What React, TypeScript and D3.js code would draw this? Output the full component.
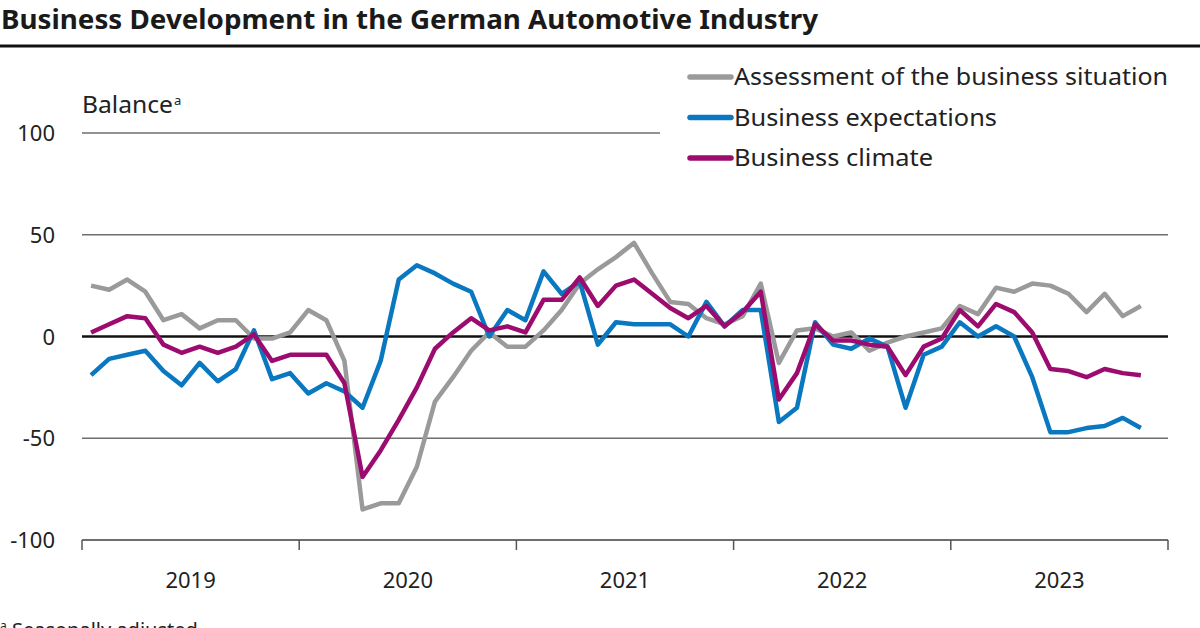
import React from "react";
import * as d3 from "d3";

const years = ["2019", "2020", "2021", "2022", "2023"];
const yTicks = [100, 50, 0, -50, -100];

const situation = [
  25, 23, 28, 22, 8, 11, 4, 8, 8, -1, -1, 2,
  13, 8, -12, -85, -82, -82, -64, -32, -20, -7, 2, -5,
  -5, 3, 13, 26, 33, 39, 46, 31, 17, 16, 9, 6,
  10, 26, -13, 3, 4, 0, 2, -7, -3, 0, 2, 4,
  15, 11, 24, 22, 26, 25, 21, 12, 21, 10, 15,
];
const expectations = [
  -19, -11, -9, -7, -17, -24, -13, -22, -16, 3, -21, -18,
  -28, -23, -27, -35, -12, 28, 35, 31, 26, 22, 0, 13,
  8, 32, 21, 27, -4, 7, 6, 6, 6, 0, 17, 5,
  13, 13, -42, -35, 7, -4, -6, -1, -5, -35, -9, -5,
  7, 0, 5, 0, -20, -47, -47, -45, -44, -40, -45,
];
const climate = [
  2, 6, 10, 9, -4, -8, -5, -8, -5, 1, -12, -9,
  -9, -9, -23, -69, -56, -41, -25, -6, 2, 9, 3, 5,
  2, 18, 18, 29, 15, 25, 28, 21, 14, 9, 15, 5,
  12, 22, -31, -18, 6, -2, -2, -4, -5, -19, -5, -1,
  13, 5, 16, 12, 2, -16, -17, -20, -16, -18, -19,
];

const seriesList = [
  { name: "Assessment of the business situation", values: situation, color: "#9a9a9a", legendW: 434 },
  { name: "Business expectations", values: expectations, color: "#0a78c0", legendW: 263 },
  { name: "Business climate", values: climate, color: "#9c0b6e", legendW: 199 },
];

const FONT = "'Liberation Sans Narrow', 'Noto Sans', 'Open Sans', sans-serif";

export default function App() {
  const W = 1200, H = 628;
  const left = 82, right = 1168;
  const x = d3.scaleLinear().domain([0, years.length * 12]).range([left, right]);
  const y = d3.scaleLinear().domain([-100, 100]).range([540, 133]);
  const line = d3
    .line<number>()
    .x((_, i) => x(i + 0.5))
    .y((d) => y(d));

  return (
    <svg
      width={W}
      height={H}
      style={{ position: "absolute", left: 0, top: 0, background: "#fff" }}
      fontFamily={FONT}
    >
      <text x={1} y={29} fontSize={26} fontWeight="bold" fill="#1a1a1a" textLength={817} lengthAdjust="spacingAndGlyphs">
        Business Development in the German Automotive Industry
      </text>
      <line x1={0} x2={W} y1={46} y2={46} stroke="#111" strokeWidth={3} />

      {/* gridlines */}
      {yTicks.map((t) => (
        <line
          key={t}
          x1={left}
          x2={t === 100 ? 660 : right}
          y1={y(t)}
          y2={y(t)}
          stroke={t === 0 ? "#111" : "#6e6e6e"}
          strokeWidth={t === 0 ? 2.5 : t === -100 ? 2 : 1.6}
        />
      ))}
      {yTicks.map((t) => (
        <text key={"l" + t} x={55} y={y(t) + 8} fontSize={22} textAnchor="end" fill="#222">
          {t}
        </text>
      ))}
      <text x={82} y={113} fontSize={23} fill="#222" textLength={91} lengthAdjust="spacingAndGlyphs">
        Balance
      </text>
      <text x={174} y={105} fontSize={13} fill="#222">a</text>

      {/* x axis ticks */}
      {d3.range(years.length + 1).map((k) => (
        <line key={"t" + k} x1={x(k * 12)} x2={x(k * 12)} y1={y(-100)} y2={y(-100) + 10} stroke="#555" strokeWidth={1.5} />
      ))}
      {years.map((yr, k) => (
        <text key={yr} x={x(k * 12 + 6)} y={588} fontSize={22} textAnchor="middle" fill="#222">
          {yr}
        </text>
      ))}

      {/* series */}
      {seriesList.map((s) => (
        <path key={s.name} d={line(s.values) || ""} fill="none" stroke={s.color} strokeWidth={4.5} strokeLinejoin="round" />
      ))}

      {/* legend */}
      {seriesList.map((s, i) => (
        <g key={"lg" + i}>
          <line x1={690} x2={731} y1={77 + i * 40.5} y2={77 + i * 40.5} stroke={s.color} strokeWidth={5.5} strokeLinecap="round" />
          <text x={734} y={85 + i * 40.5} fontSize={24} fill="#222" textLength={s.legendW} lengthAdjust="spacingAndGlyphs">
            {s.name}
          </text>
        </g>
      ))}

      <text x={0} y={637} fontSize={20} fill="#222">
        <tspan fontSize={12} dy={-7}>a</tspan>
        <tspan dy={7}> Seasonally adjusted</tspan>
      </text>
    </svg>
  );
}
